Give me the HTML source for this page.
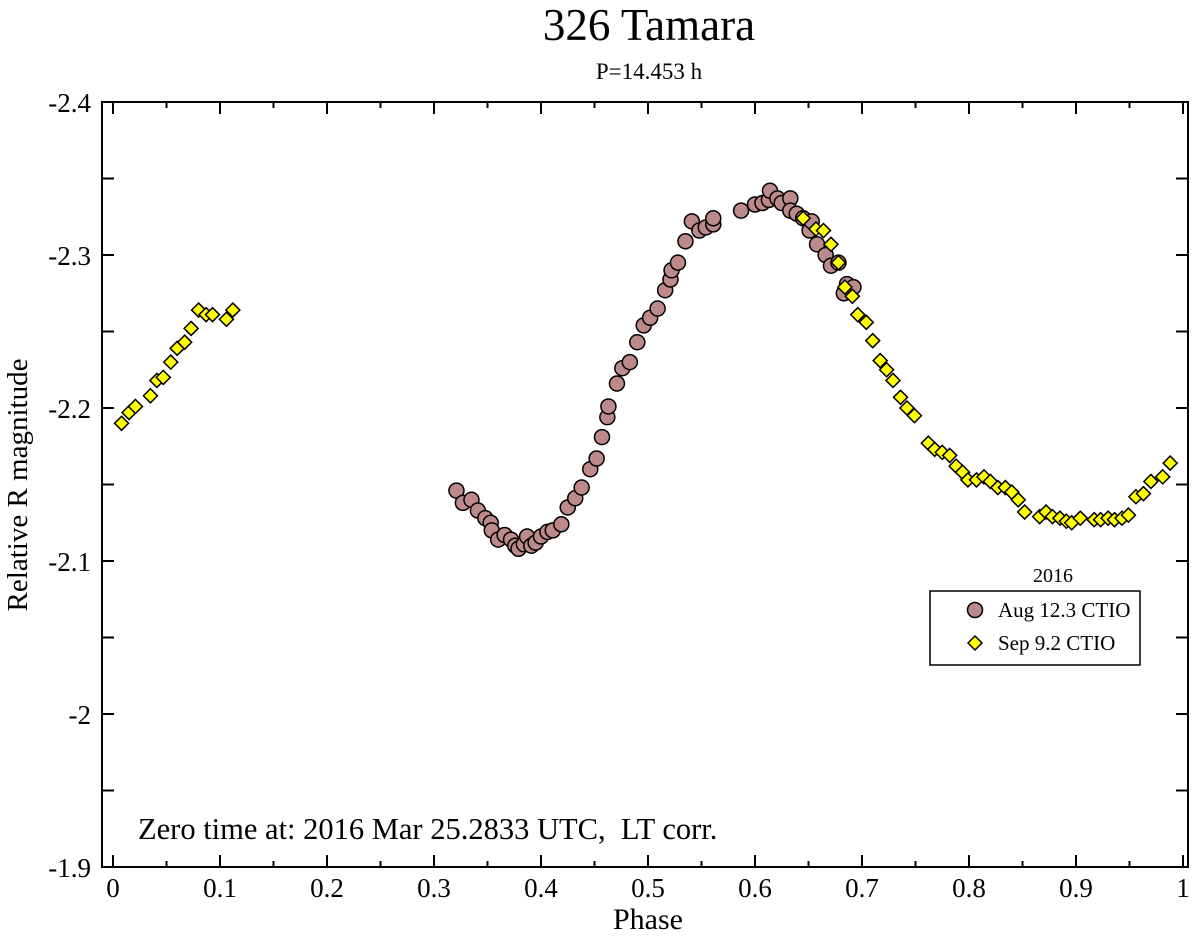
<!DOCTYPE html>
<html><head><meta charset="utf-8"><style>
body{margin:0;background:#fff}
svg text{font-family:"Liberation Serif",serif;fill:#000}
</style></head><body>
<svg id="chart" width="1200" height="936" xmlns="http://www.w3.org/2000/svg">
<text x="649" y="40" font-size="45" text-anchor="middle">326 Tamara</text>
<text x="649" y="79" font-size="23" text-anchor="middle">P=14.453 h</text>
<rect x="102" y="102" width="1086" height="765" fill="none" stroke="#000" stroke-width="2"/>
<g id="ticks"></g>
<g id="marks"></g>
<text x="648" y="929" font-size="30" text-anchor="middle">Phase</text>
<text transform="translate(27,485) rotate(-90)" font-size="29" text-anchor="middle">Relative R magnitude</text>
<text x="138" y="839" font-size="30.5" style="white-space:pre" xml:space="preserve">Zero time at: 2016 Mar 25.2833 UTC,  LT corr.</text>
<text x="1053" y="582" font-size="20" text-anchor="middle">2016</text>
<g>
<rect x="930" y="591" width="210" height="74" fill="#fff" stroke="#000" stroke-width="1.5"/>
<circle cx="975" cy="610" r="7.5" fill="#bc8a8a" stroke="#000" stroke-width="1.5"/>
<text x="998" y="617" font-size="21">Aug 12.3 CTIO</text>
<path d="M975 636 L982 643 L975 650 L968 643Z" fill="#ffff00" stroke="#000" stroke-width="1.5"/>
<text x="998" y="650" font-size="21">Sep 9.2 CTIO</text>
</g>
</svg>
<script>
const xTicks=[0,0.1,0.2,0.3,0.4,0.5,0.6,0.7,0.8,0.9,1];
const xTickLabels=["0","0.1","0.2","0.3","0.4","0.5","0.6","0.7","0.8","0.9","1"];
const yTicks=[-2.4,-2.3,-2.2,-2.1,-2,-1.9];
const yTickLabels=["-2.4","-2.3","-2.2","-2.1","-2","-1.9"];
const augPhase=[.321,.327,.335,.341,.348,.353,.354,.360,.366,.372,.376,.379,.384,.387,.391,.395,.400,.406,.411,.419,.425,.432,.438,.446,.452,.457,.462,.463,.471,.476,.483,.490,.496,.502,.509,.516,.521,.522,.528,.535,.541,.548,.554,.561,.561,.587,.600,.607,.613,.614,.621,.625,.633,.633,.639,.645,.651,.653,.658,.666,.671,.678,.683,.686,.692];
const augMag=[-2.146,-2.138,-2.140,-2.133,-2.128,-2.125,-2.120,-2.114,-2.117,-2.114,-2.110,-2.108,-2.111,-2.116,-2.110,-2.112,-2.116,-2.119,-2.120,-2.124,-2.135,-2.141,-2.148,-2.160,-2.167,-2.181,-2.194,-2.201,-2.216,-2.226,-2.230,-2.243,-2.254,-2.259,-2.265,-2.277,-2.284,-2.290,-2.295,-2.309,-2.322,-2.316,-2.318,-2.320,-2.324,-2.329,-2.333,-2.334,-2.336,-2.342,-2.337,-2.334,-2.337,-2.329,-2.327,-2.324,-2.316,-2.322,-2.307,-2.300,-2.293,-2.295,-2.275,-2.281,-2.279];
const sepPhase=[.008,.015,.021,.035,.041,.047,.054,.060,.067,.073,.080,.087,.093,.106,.112,.645,.657,.664,.671,.678,.684,.691,.696,.704,.710,.717,.723,.729,.736,.742,.749,.762,.768,.775,.782,.788,.794,.799,.807,.814,.820,.827,.834,.840,.846,.852,.866,.872,.878,.885,.891,.896,.904,.917,.923,.930,.936,.943,.949,.956,.963,.970,.981,.988];
const sepMag=[-2.190,-2.197,-2.201,-2.208,-2.218,-2.220,-2.230,-2.239,-2.243,-2.252,-2.264,-2.261,-2.261,-2.258,-2.264,-2.324,-2.317,-2.316,-2.307,-2.295,-2.279,-2.273,-2.261,-2.256,-2.244,-2.231,-2.225,-2.218,-2.207,-2.200,-2.195,-2.177,-2.173,-2.171,-2.169,-2.162,-2.158,-2.153,-2.153,-2.155,-2.152,-2.148,-2.148,-2.145,-2.140,-2.132,-2.129,-2.132,-2.129,-2.128,-2.126,-2.125,-2.128,-2.127,-2.127,-2.128,-2.127,-2.128,-2.130,-2.142,-2.144,-2.152,-2.155,-2.164];
const NS="http://www.w3.org/2000/svg";
const xs=p=>113+p*1070;
const ys=v=>102+(v+2.4)/0.5*765;
const T=document.getElementById('ticks'),M=document.getElementById('marks');
function mk(tag,a,par){const e=document.createElementNS(NS,tag);for(const k in a)e.setAttribute(k,a[k]);par.appendChild(e);return e;}
xTicks.forEach((t,i)=>{
 const x=xs(t);
 const l=mk('line',{x1:x,x2:x,y1:867,y2:855,stroke:'#000','stroke-width':2},T);
 
 
 mk('line',{x1:x,x2:x,y1:102,y2:114,stroke:'#000','stroke-width':2},T);
 if(i<xTicks.length-1){const xm=xs(t+0.05);
  mk('line',{x1:xm,x2:xm,y1:867,y2:861,stroke:'#000','stroke-width':2},T);
  mk('line',{x1:xm,x2:xm,y1:102,y2:108,stroke:'#000','stroke-width':2},T);}
 const tx=mk('text',{x:x,y:897,'font-size':27,'text-anchor':'middle'},T);
 tx.textContent=xTickLabels[i];
 
 
});
yTicks.forEach((t,i)=>{
 const y=ys(t);
 mk('line',{x1:102,x2:114,y1:y,y2:y,stroke:'#000','stroke-width':2},T);
 mk('line',{x1:1188,x2:1176,y1:y,y2:y,stroke:'#000','stroke-width':2},T);
 if(i<yTicks.length-1){const ym=ys(t+0.05);
  mk('line',{x1:102,x2:114,y1:ym,y2:ym,stroke:'#000','stroke-width':2},T);
  mk('line',{x1:1188,x2:1176,y1:ym,y2:ym,stroke:'#000','stroke-width':2},T);}
 const tx=mk('text',{x:91,y:y+10,'font-size':27,'text-anchor':'end'},T);
 tx.textContent=yTickLabels[i];
 
 
});
augPhase.forEach((p,i)=>{
 const c=mk('circle',{cx:xs(p),cy:ys(augMag[i]),r:7.5,fill:'#bc8a8a',stroke:'#000','stroke-width':1.5},M);
 
 
});
sepPhase.forEach((p,i)=>{
 const x=xs(p),y=ys(sepMag[i]);
 const d=mk('path',{d:`M${x} ${y-7}L${x+7} ${y}L${x} ${y+7}L${x-7} ${y}Z`,fill:'#ffff00',stroke:'#000','stroke-width':1.5},M);
 
 
});
</script>
</body></html>
